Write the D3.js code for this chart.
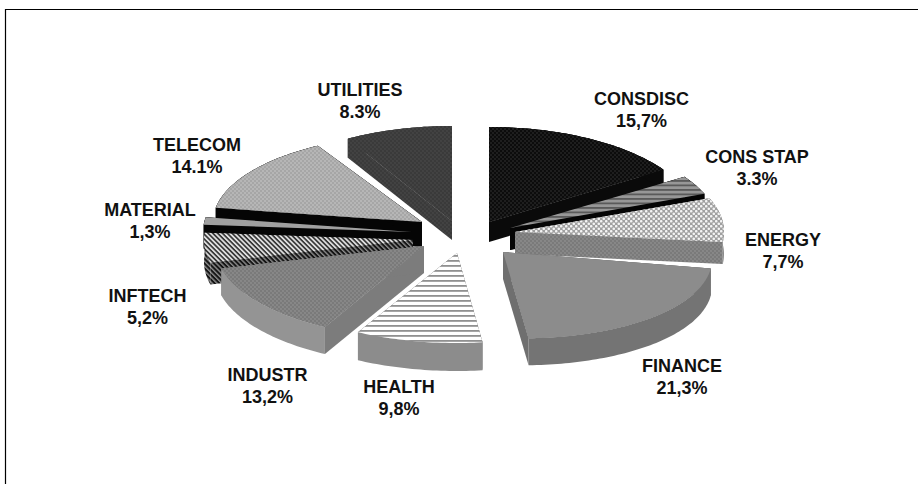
<!DOCTYPE html>
<html>
<head>
<meta charset="utf-8">
<script src="https://cdn.jsdelivr.net/npm/d3@7/dist/d3.min.js"></script>
<style>
  html, body { margin: 0; padding: 0; background: #fff; }
  svg { display: block; }
  text { font-family: "Liberation Sans", Arial, sans-serif; font-weight: 700; font-size: 18px; fill: #111; text-anchor: middle; }
</style>
</head>
<body>
<svg id="chart" width="918" height="484"></svg>
<script>
// Sector weights, clockwise from twelve o'clock
const sectors = ["CONSDISC", "CONS STAP", "ENERGY", "FINANCE", "HEALTH", "INDUSTR", "INFTECH", "MATERIAL", "TELECOM", "UTILITIES"];
const weights = [15.7, 3.3, 7.7, 21.3, 9.8, 13.2, 5.2, 1.3, 14.1, 8.3];
const weightLabels = ["15,7%", "3.3%", "7,7%", "21,3%", "9,8%", "13,2%", "5,2%", "1,3%", "14.1%", "8.3%"];

// Where each wedge's tip sits after being pulled out, its depth on the tilted
// plane, how far it leans, and how thick it is drawn
const tipX = [489, 510, 515, 503, 457, 424, 413, 412, 422, 452];
const tipY = [222, 228, 232, 252, 253, 246, 240, 232, 222, 221];
const depthY = [95, 93, 92, 86, 90, 92, 92, 92, 88, 95];
const lean = [0, 0, 0, 0.035, 0, 0, 0, 0, 0, 0];
const thickness = [20, 22, 22, 27, 28, 27, 22, 24, 25, 19];

// Label anchors (baseline of the name line)
const labelX = [641.5, 757, 783, 682, 399, 267.5, 147.5, 150, 197, 360];
const labelY = [105, 163, 246, 372, 393, 381, 302, 216, 151, 96];

// Fill of the top face, the radial walls and the outer wall of each wedge
const topFill = ["url(#pBlack)", "url(#pStripeGrey)", "url(#pCheck)", "#8c8c8c", "url(#pStripeLight)", "url(#pGreyDots)", "url(#pDiag)", "#a0a0a0", "url(#pLightDots)", "url(#pDarkDots)"];
const sideFill = ["#0a0a0a", "#050505", "url(#pGreyDots)", "#6f6f6f", "#8c8c8c", "#7c7c7c", "url(#pDiagDark)", "#050505", "#050505", "url(#pDarkDots)"];
const rimFill  = ["#0a0a0a", "#050505", "#8a8a8a", "#747474", "#8c8c8c", "#949494", "url(#pDiagDark)", "#050505", "#050505", "url(#pDarkDots)"];
const baseFill = ["#0a0a0a", "#050505", "#828282", "#6f6f6f", "#8c8c8c", "#7c7c7c", "#555555", "#050505", "#050505", "#404040"];

// Order in which wedges are painted, rear ones first
const paintOrder = [9, 0, 8, 1, 7, 2, 6, 3, 5, 4];

const radiusX = 209;

const svg = d3.select("#chart");
const defs = svg.append("defs");

function dotPattern(id, bg, dot, size, r) {
  const p = defs.append("pattern").attr("id", id).attr("patternUnits", "userSpaceOnUse")
    .attr("width", size).attr("height", size);
  p.append("rect").attr("width", size).attr("height", size).attr("fill", bg);
  p.append("circle").attr("cx", size / 4).attr("cy", size / 4).attr("r", r).attr("fill", dot);
  p.append("circle").attr("cx", size * 3 / 4).attr("cy", size * 3 / 4).attr("r", r).attr("fill", dot);
}
function linePattern(id, bg, line, size, width, angle) {
  const p = defs.append("pattern").attr("id", id).attr("patternUnits", "userSpaceOnUse")
    .attr("width", size).attr("height", size).attr("patternTransform", `rotate(${angle})`);
  p.append("rect").attr("width", size).attr("height", size).attr("fill", bg);
  p.append("rect").attr("width", size).attr("height", width).attr("fill", line);
}
dotPattern("pBlack", "#0c0c0c", "#262626", 4, 0.9);
dotPattern("pDarkDots", "#3a3a3a", "#464646", 4, 0.9);
dotPattern("pLightDots", "#a6a6a6", "#bebebe", 4, 0.9);
dotPattern("pGreyDots", "#7a7a7a", "#8e8e8e", 4, 0.9);
dotPattern("pCheck", "#a0a0a0", "#f4f4f4", 5, 1.3);
linePattern("pStripeGrey", "#979797", "#5a5a5a", 4.5, 1.8, 0);
linePattern("pStripeLight", "#ffffff", "#909090", 5, 1.8, 0);
linePattern("pDiag", "#dedede", "#303030", 3.4, 1.6, 45);
linePattern("pDiagDark", "#8c8c8c", "#141414", 3.4, 2, 45);

// Frame: only the top and left rules are drawn
svg.append("path").attr("d", "M5.5,484V9.5H918").attr("fill", "none").attr("stroke", "#000").attr("stroke-width", 1.2);

const slices = d3.pie().sort(null).value(d => d)(weights);

const line = d3.line();

function rim(s) {
  const n = Math.ceil((s.endAngle - s.startAngle) / 0.02);
  const angle = d3.scaleLinear().domain([0, n]).range([s.startAngle, s.endAngle]);
  return d3.range(n + 1).map(i => angle(i));
}

const layer = svg.append("g");
paintOrder.forEach(i => {
  const s = slices[i];
  const cx = tipX[i], cy = tipY[i], d = thickness[i];
  // Flattened polar position on the tilted plane
  const top = rim(s).map(a => {
    const x = Math.sin(a) * radiusX;
    return [cx + x, cy - Math.cos(a) * depthY[i] + x * lean[i]];
  });
  const g = layer.append("g").attr("class", "wedge");
  const face = line([[cx, cy]].concat(top)) + "Z";

  // Flat underlay so the walls join the top face without a seam
  g.append("path").attr("d", face).attr("fill", baseFill[i]);
  // Radial walls at both ends of the wedge
  [top[0], top[top.length - 1]].forEach(p => {
    g.append("path")
      .attr("d", line([[cx, cy], p, [p[0], p[1] + d], [cx, cy + d]]) + "Z")
      .attr("fill", sideFill[i]);
  });
  // Outer curved wall
  g.append("path")
    .attr("d", line(top.concat(top.map(p => [p[0], p[1] + d]).reverse())) + "Z")
    .attr("fill", rimFill[i]);
  // Top face
  g.append("path").attr("d", face).attr("fill", topFill[i]);
});

// Sector names with their weights underneath
const labels = svg.append("g").selectAll("text").data(sectors).join("text")
  .attr("transform", (d, i) => `translate(${labelX[i]},${labelY[i]})`);
labels.append("tspan").attr("x", 0).attr("y", 0).text(d => d);
labels.append("tspan").attr("x", 0).attr("y", 22).text((d, i) => weightLabels[i]);
</script>
</body>
</html>
